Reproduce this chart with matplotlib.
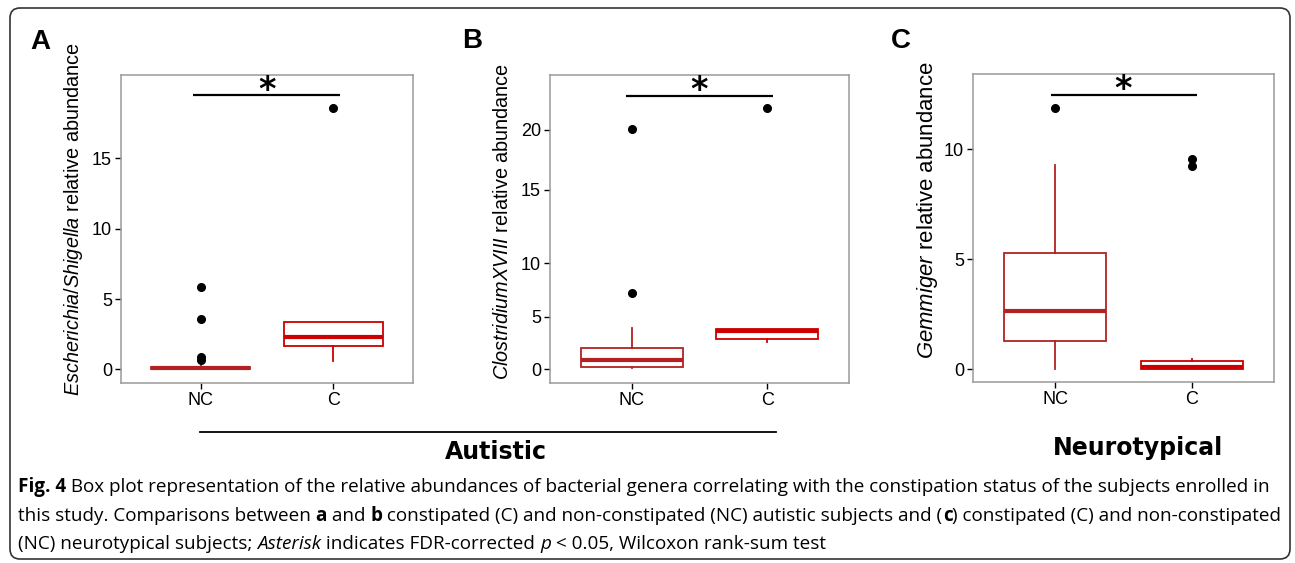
import numpy as np
import matplotlib
matplotlib.use("Agg")
matplotlib.rcParams.update({
    "font.family": "Liberation Sans",
    "mathtext.fontset": "custom",
    "mathtext.rm": "Liberation Sans",
    "mathtext.it": "Liberation Sans:italic",
    "mathtext.bf": "Liberation Sans:bold",
})
import matplotlib.pyplot as plt
from matplotlib.lines import Line2D
from matplotlib.patches import FancyBboxPatch

# ---------------- data ----------------
groups = ["NC", "C"]

# panel A: Escherichia/Shigella
a_nc = dict(whislo=0.0, q1=0.0, med=0.08, q3=0.2, whishi=0.3,
            fliers=[5.83, 3.58, 0.85, 0.65])
a_c = dict(whislo=0.61, q1=1.68, med=2.27, q3=3.36, whishi=3.36,
           fliers=[18.55])
# panel B: ClostridiumXVIII
b_nc = dict(whislo=0.1, q1=0.19, med=0.86, q3=2.05, whishi=3.9,
            fliers=[20.08, 7.2])
b_c = dict(whislo=2.57, q1=2.88, med=3.64, q3=3.8, whishi=3.8,
           fliers=[21.8])
# panel C: Gemmiger
c_nc = dict(whislo=0.0, q1=1.28, med=2.64, q3=5.3, whishi=9.28,
            fliers=[11.9])
c_c = dict(whislo=0.0, q1=0.0, med=0.08, q3=0.36, whishi=0.47,
           fliers=[9.54, 9.25])

ylabels = [r"$\it{Escherichia/Shigella}$ relative abundance",
           r"$\it{ClostridiumXVIII}$ relative abundance",
           r"$\it{Gemmiger}$ relative abundance"]
ylabel_sizes = [14.3, 14.3, 15.9]
yticks = [[0, 5, 10, 15], [0, 5, 10, 15, 20], [0, 5, 10]]
ylims = [(-0.97, 20.92), (-1.30, 24.56), (-0.59, 13.43)]
sig_y = [19.47, 22.84, 12.46]
sig_x = [(0.945, 2.05), (0.959, 2.039), (0.968, 2.04)]
panel_letters = ["A", "B", "C"]

# panel B in the source has uneven tick spacing -> piecewise-linear axis
b_scale_vals = [-10, 0, 5, 10, 15, 20, 40]
b_scale_pix = [-105.4, 0, 52.7, 106.0, 179.3, 239.3, 480.5]

NC_COL = "#B22222"
C_COL = "#CC0000"

W, H = 1295, 563
fig = plt.figure(figsize=(W / 100, H / 100), dpi=100)


def px_rect(l, r, t, b):
    return [l / W, 1 - b / H, (r - l) / W, (b - t) / H]


axes_px = [(121, 413, 75, 383), (550, 849, 75, 383), (973, 1274, 74, 382)]
label_xy = [(-0.162, 0.532), (-0.160, 0.524), (-0.150, 0.557)]
all_stats = [(a_nc, a_c), (b_nc, b_c), (c_nc, c_c)]

for k, (rect, stats) in enumerate(zip(axes_px, all_stats)):
    ax = fig.add_axes(px_rect(*rect))
    if k == 1:
        ax.set_yscale("function", functions=(
            lambda v: np.interp(v, b_scale_vals, b_scale_pix),
            lambda p: np.interp(p, b_scale_pix, b_scale_vals)))
    for pos, st, col in zip([1, 2], stats, [NC_COL, C_COL]):
        ax.bxp([st], positions=[pos], widths=0.75, showcaps=False,
               patch_artist=True,
               boxprops=dict(facecolor="white", edgecolor=col, linewidth=1.3),
               medianprops=dict(color=col, linewidth=3.0, solid_capstyle="butt"),
               whiskerprops=dict(color=col, linewidth=1.3),
               flierprops=dict(marker="o", markerfacecolor="black",
                               markeredgecolor="black", markersize=5.5))
    ax.set_xlim(0.4, 2.6)
    ax.set_ylim(*ylims[k])
    ax.set_xticks([1, 2])
    ax.set_xticklabels(groups)
    ax.set_yticks(yticks[k])
    ax.set_yticklabels([str(t) for t in yticks[k]])
    ax.minorticks_off()
    ax.tick_params(length=4.5, width=1.0, color="black", labelsize=13,
                   pad=2, labelcolor="black")
    for sp in ax.spines.values():
        sp.set_color("#9a9a9a")
        sp.set_linewidth(1.1)
    ax.set_ylabel(ylabels[k], fontsize=ylabel_sizes[k])
    ax.yaxis.set_label_coords(*label_xy[k])
    ax.yaxis.label.set_va("center")
    # significance bar + asterisk
    ax.plot(sig_x[k], [sig_y[k]] * 2, color="black", lw=1.6,
            solid_capstyle="butt")
    ax.annotate("*", xy=(1.5, sig_y[k]), xytext=(0, -8),
                textcoords="offset points", ha="center", va="bottom",
                fontsize=24, fontweight="bold", family="DejaVu Sans")

for letter, (x, y) in zip(panel_letters, [(40, 42), (472, 41), (901, 41)]):
    fig.text(x / W, 1 - y / H, letter, ha="center", va="center",
             fontsize=20, fontweight="bold")

# group annotations
fig.add_artist(Line2D([200 / W, 776 / W], [1 - 432 / H] * 2,
                      transform=fig.transFigure, color="black", lw=1.3))
fig.text(496 / W, 1 - 452 / H, "Autistic", ha="center", va="center",
         fontsize=17, fontweight="bold", family="DejaVu Sans")
fig.text(1138 / W, 1 - 448 / H, "Neurotypical", ha="center", va="center",
         fontsize=17, fontweight="bold", family="DejaVu Sans")

# outer frame
fig.add_artist(FancyBboxPatch((0.10, 0.04), 12.80, 5.51,
                              boxstyle="round,pad=0,rounding_size=0.1",
                              transform=fig.dpi_scale_trans, fill=False,
                              edgecolor="#333333", lw=1.2))

# caption drawn as runs of mixed bold / italic text
CAP_FONT = "Open Sans"
CAP_SIZE = 13.55
caption = [
    [("Fig. 4", "bold", "normal"),
     (" Box plot representation of the relative abundances of bacterial genera "
      "correlating with the constipation status of the subjects enrolled in",
      "normal", "normal")],
    [("this study. Comparisons between ", "normal", "normal"),
     ("a", "bold", "normal"), (" and ", "normal", "normal"),
     ("b", "bold", "normal"),
     (" constipated (C) and non-constipated (NC) autistic subjects and (",
      "normal", "normal"),
     ("c", "bold", "normal"),
     (") constipated (C) and non-constipated", "normal", "normal")],
    [("(NC) neurotypical subjects; ", "normal", "normal"),
     ("Asterisk", "normal", "italic"),
     (" indicates FDR-corrected ", "normal", "normal"),
     ("p", "normal", "italic"),
     (" < 0.05, Wilcoxon rank-sum test", "normal", "normal")],
]
renderer = fig.canvas.get_renderer()


def run_width(s, weight, style):
    kw = dict(fontsize=CAP_SIZE, family=CAP_FONT, fontweight=weight,
              fontstyle=style)
    t1 = fig.text(0, 0, "|" + s + "|", **kw)
    t2 = fig.text(0, 0, "||", **kw)
    w = (t1.get_window_extent(renderer).width
         - t2.get_window_extent(renderer).width)
    t1.remove()
    t2.remove()
    return w


for line, base_y in zip(caption, [492, 521, 549]):
    x = 18
    for s, weight, style in line:
        fig.text(x / W, 1 - base_y / H, s, ha="left", va="baseline",
                 fontsize=CAP_SIZE, family=CAP_FONT, fontweight=weight,
                 fontstyle=style)
        x += run_width(s, weight, style)

fig.savefig("out.png", dpi=100)
